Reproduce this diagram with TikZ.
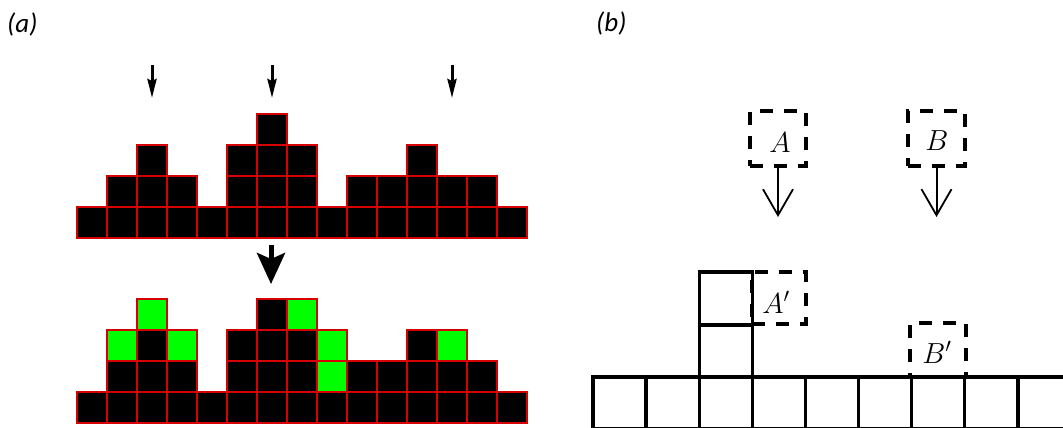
\RequirePackage{fix-cm}
\documentclass[tikz,border=0pt]{standalone}
\usepackage{fontspec}
\newfontfamily\labfont{Carlito}
\usetikzlibrary{arrows.meta}
\definecolor{cellred}{RGB}{215,0,0}
\definecolor{cellgreen}{RGB}{0,255,0}
\tikzset{
  kcell/.style={fill=black, draw=cellred, line width=1.3pt},
  gcell/.style={fill=cellgreen, draw=cellred, line width=1.3pt},
  smallarrow/.style={line width=3pt, -{Stealth[length=19pt,width=9pt,inset=2pt]}},
  bigarrow/.style={line width=5pt, -{Stealth[length=31pt,width=28pt,inset=6pt]}},
  lab/.style={font=\labfont\itshape\fontsize{27}{30}\selectfont, inner sep=0pt},
  gridline/.style={draw=black, line width=3.4pt},
  dbox/.style={draw=black, line width=3.2pt, dash pattern=on 13pt off 11pt, inner sep=0pt},
  mathlab/.style={font=\fontsize{29}{32}\selectfont, inner sep=0pt, anchor=base},
  openarrow/.style={line width=2pt, -{Straight Barb[length=26pt,width=30pt,line width=1.8pt]}}
}
\begin{document}
\begin{tikzpicture}[x=1pt,y=-1pt]
\useasboundingbox (0,0) rectangle (1063,428);

% labels
\node[lab, anchor=west] (la) at (7,24) {(a)};
\node[lab, anchor=west] (lb) at (596,23) {(b)};

% (a) top grid
\foreach \c/\h in {0/1,1/2,2/3,3/2,4/1,5/3,6/4,7/3,8/1,9/2,10/2,11/3,12/2,13/2,14/1}
  \foreach \r in {1,...,\h}
    \draw[kcell] ({77+30*\c},{238-31*\r}) rectangle ++(30,31);

% (a) small arrows
\coordinate (s1a) at (152,65); \coordinate (s1b) at (152,98);
\coordinate (s2a) at (272,65); \coordinate (s2b) at (272,98);
\coordinate (s3a) at (452,65); \coordinate (s3b) at (452,98);
\draw[smallarrow] (s1a) -- (s1b);
\draw[smallarrow] (s2a) -- (s2b);
\draw[smallarrow] (s3a) -- (s3b);

% (a) big arrow
\coordinate (ba) at (271,245); \coordinate (bb) at (271,284);
\draw[bigarrow] (ba) -- (bb);

% (a) bottom grid
\foreach \c/\h in {0/1,1/3,2/4,3/3,4/1,5/3,6/4,7/4,8/3,9/2,10/2,11/3,12/3,13/2,14/1}
  \foreach \r in {1,...,\h}
    \draw[kcell] ({77+30*\c},{423-31*\r}) rectangle ++(30,31);
\foreach \c/\r in {1/3,2/4,3/3,7/4,8/2,8/3,12/3}
  \draw[gcell] ({77+30*\c},{423-31*\r}) rectangle ++(30,31);

% (b) base row
\begin{scope}
  \clip (580,0) rectangle (1063,428);
  \foreach \i in {0,...,8}
    \draw[gridline] ({593+53.1*\i},377) rectangle ++(53.1,52);
\end{scope}
% (b) stack
\draw[gridline] (699.2,325) rectangle (752.3,377);
\draw[gridline] (699.2,272) rectangle (752.3,325);

% (b) dashed boxes
\node[dbox, minimum width=56pt, minimum height=55pt] (boxA) at (778,138.5) {};
\node[dbox, minimum width=57pt, minimum height=55pt] (boxB) at (936.5,138.5) {};
\node[dbox, minimum width=54pt, minimum height=52pt] (boxAp) at (779,298) {};
\node[dbox, minimum width=56pt, minimum height=54pt] (boxBp) at (938,350) {};

\node[mathlab] (tA) at (780,152) {$A$};
\node[mathlab] (tB) at (937,150) {$B$};
\node[mathlab] (tAp) at (776,313) {$A'$};
\node[mathlab] (tBp) at (937,363) {$B'$};

% (b) arrows
\coordinate (eA) at (778,217);
\coordinate (eB) at (936.5,217);
\draw[openarrow] (boxA.south) -- (eA);
\draw[openarrow] (boxB.south) -- (eB);
\end{tikzpicture}
\end{document}
